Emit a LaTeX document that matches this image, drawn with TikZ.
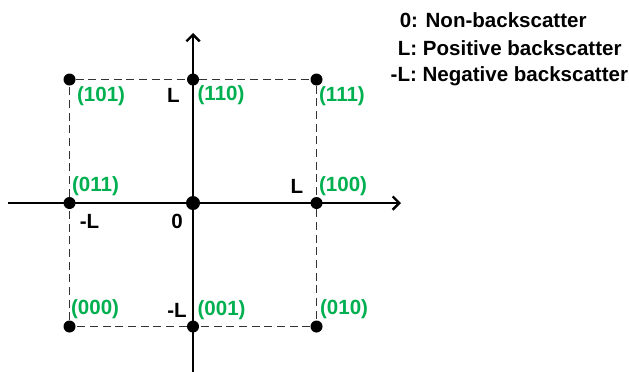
\documentclass[tikz,border=0pt]{standalone}
\usepackage{fontspec}
\setmainfont{Liberation Sans}
\usepackage{xcolor}
\usepackage{tikz}
\usetikzlibrary{arrows.meta, positioning, calc}
\definecolor{codegreen}{RGB}{0,176,80}
\definecolor{dashgray}{RGB}{50,50,50}
\tikzset{
  dot/.style={
    circle, fill=black, inner sep=0pt, minimum size=9pt
  },
  origindot/.style={dot, minimum size=10.5pt},
  axis/.style={-{Straight Barb[length=5pt,width=10pt]}, line width=1.8pt},
  dashline/.style={dash pattern=on 6pt off 3.5pt, line width=0.9pt, color=dashgray},
  code/.style={
    inner sep=0pt, anchor=west, text=codegreen,
    font=\fontsize{15.4}{18}\selectfont\bfseries
  },
  tick/.style={
    inner sep=0pt, text=black, font=\fontsize{15.4}{18}\selectfont\bfseries
  },
  legend/.style={tick, anchor=west}
}

\begin{document}
\begin{tikzpicture}[x=92.6pt, y=92.6pt]
  \useasboundingbox (-1.563,-1.360) rectangle (3.530,1.644);

  % Axes
  \coordinate (xmin) at (-1.498,0);
  \coordinate (xmax) at (1.684,0);
  \coordinate (ymin) at (0,-1.370);
  \coordinate (ymax) at (0,1.377);
  \draw[axis] (xmin) -- (xmax);
  \draw[axis] (ymin) -- (ymax);

  % Constellation points
  \node[origindot] (p0) at (0,0) {};
  \node[dot] (p101) at (-1,1) {};
  \node[dot] (p110) at (0,1) {};
  \node[dot] (p111) at (1,1) {};
  \node[dot] (p011) at (-1,0) {};
  \node[dot] (p100) at (1,0) {};
  \node[dot] (p000) at (-1,-1) {};
  \node[dot] (p001) at (0,-1) {};
  \node[dot] (p010) at (1,-1) {};

  % Dashed square
  \draw[dashline] (p101) -- (p110) -- (p111) -- (p100) -- (p010)
    -- (p001) -- (p000) -- (p011) -- (p101);

  % Codes
  \node[code] (c101) at ([shift={(5.5pt,-12.75pt)}]p101.center) {(101)};
  \node[code] (c110) at ([shift={(3.25pt,-12pt)}]p110.center) {(110)};
  \node[code] (c111) at ([shift={(1.75pt,-12.75pt)}]p111.center) {(111)};
  \node[code] (c011) at ([shift={(1.75pt,12.75pt)}]p011.center) {(011)};
  \node[code] (c100) at ([shift={(1.75pt,12.75pt)}]p100.center) {(100)};
  \node[code] (c000) at ([shift={(1pt,12.75pt)}]p000.center) {(000)};
  \node[code] (c001) at ([shift={(3.25pt,12pt)}]p001.center) {(001)};
  \node[code] (c010) at ([shift={(2.5pt,12.75pt)}]p010.center) {(010)};

  % Axis values
  \node[tick, anchor=east] (ty) at ([shift={(-9.75pt,-12pt)}]p110.center) {L};
  \node[tick, anchor=east] (tx) at ([shift={(-9.75pt,12.75pt)}]p100.center) {L};
  \node[tick, anchor=east] (tny) at ([shift={(-4.5pt,12pt)}]p001.center) {-L};
  \node[tick, anchor=west] (tnx) at ([shift={(7.5pt,-13.5pt)}]p011.center) {-L};
  \node[tick, anchor=east] (tzero) at ([shift={(-7.5pt,-13.5pt)}]p0.center) {0};

  % Legend
  \node[legend] (leg0) at (1.672,1.482) {0: Non-backscatter};
  \node[legend] (legp) at (1.656,1.255) {L: Positive backscatter};
  \node[legend] (legn) at (1.598,1.028) {-L: Negative backscatter};
\end{tikzpicture}
\end{document}
